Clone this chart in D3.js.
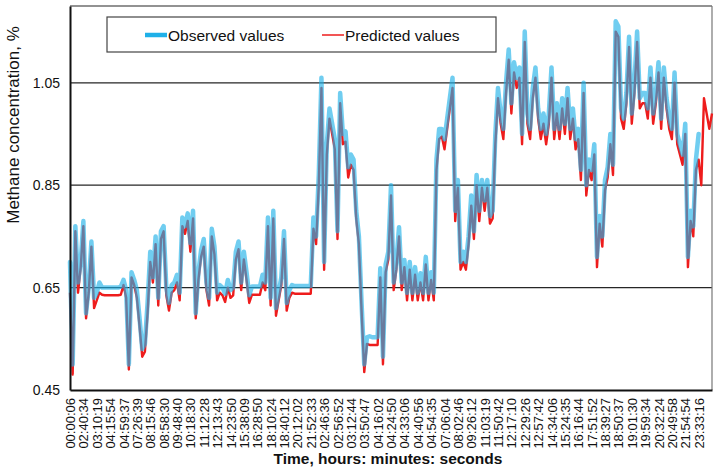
<!DOCTYPE html>
<html><head><meta charset="utf-8">
<script src="https://cdn.jsdelivr.net/npm/d3@7"></script>
<style>body{margin:0;background:#fff}svg{display:block;font-family:"Liberation Sans",Arial,sans-serif}</style>
</head><body><svg id="c" width="720" height="476"></svg>
<script>
const tickLabels = ["00:00:06","02:40:34","03:10:19","04:15:54","04:59:37","07:26:39","08:15:46","08:58:30","09:48:40","10:18:30","11:12:28","12:13:43","14:23:50","15:38:09","16:28:50","18:10:24","18:40:12","20:12:02","21:52:33","02:46:36","02:56:52","03:12:44","03:50:47","04:16:02","04:24:50","04:33:06","04:40:56","04:54:35","07:06:04","08:02:46","09:26:12","11:03:19","11:50:42","12:17:10","12:29:26","12:57:42","14:34:06","15:24:35","16:16:44","17:51:52","18:39:27","18:50:37","19:01:30","19:59:34","20:32:24","20:49:58","21:54:54","23:33:16"];
const pointsPerLabel = 5;

const observed = [0.70,0.50,0.77,0.66,0.70,0.78,0.60,0.65,0.74,0.63,
 0.64,0.66,0.65,0.65,0.65,0.65,0.65,0.65,0.65,
 0.652,0.665,0.645,0.50,0.68,0.665,0.645,0.59,0.53,0.54,
 0.62,0.72,0.67,0.75,0.63,0.76,0.77,0.65,0.62,0.655,
 0.66,0.675,0.64,0.787,0.77,0.795,0.737,0.80,0.60,0.68,
 0.723,0.745,0.66,0.63,0.765,0.73,0.64,0.655,0.65,0.638,
 0.665,0.645,0.65,0.72,0.74,0.66,0.72,0.68,0.635,0.652,
 0.652,0.652,0.652,0.675,0.66,0.787,0.63,0.80,0.61,
 0.64,0.67,0.76,0.62,0.645,0.655,0.653,0.653,0.653,0.653,
 0.653,0.653,0.653,0.787,0.75,0.87,1.06,0.70,0.93,1.00,
 0.97,0.94,0.76,1.03,0.95,0.955,0.885,0.91,0.90,0.80,
 0.75,0.62,0.50,0.553,0.555,0.553,0.553,0.553,0.688,
 0.515,0.695,0.72,0.85,0.66,0.70,0.768,0.66,0.704,0.64,
 0.70,0.64,0.69,0.64,0.678,0.64,0.71,0.64,0.68,0.64,
 0.90,0.96,0.96,0.94,0.98,1.02,1.06,0.80,0.86,0.70,
 0.72,0.70,0.75,0.83,0.76,0.87,0.80,0.86,0.82,0.86,
 0.79,0.80,0.95,1.04,0.99,0.96,1.05,1.115,1.01,
 1.09,1.06,1.08,0.95,1.15,0.99,0.96,1.04,1.08,1.00,
 0.96,0.99,0.95,0.99,1.08,0.96,1.01,0.96,1.02,0.97,
 1.04,0.96,1.00,0.94,0.96,0.88,1.05,0.85,0.90,0.88,
 0.93,0.71,0.79,0.75,0.86,0.885,0.95,0.89,1.17,1.16,
 1.00,0.98,1.03,1.14,0.99,1.05,1.15,1.02,1.03,
 1.03,1.00,1.08,0.99,1.03,1.09,0.98,1.08,1.02,0.98,
 0.96,1.07,0.95,0.93,0.91,0.97,0.71,0.80,0.77,0.90,
 0.95];

const predicted = [0.64,0.48,0.76,0.64,0.69,0.77,0.59,0.64,0.73,0.61,
 0.625,0.64,0.636,0.635,0.635,0.635,0.635,0.635,0.635,
 0.636,0.655,0.63,0.49,0.67,0.655,0.63,0.575,0.515,0.525,
 0.60,0.70,0.66,0.735,0.615,0.745,0.76,0.635,0.605,0.64,
 0.645,0.66,0.625,0.77,0.755,0.78,0.72,0.785,0.59,0.665,
 0.71,0.73,0.645,0.615,0.75,0.715,0.625,0.64,0.635,0.622,
 0.65,0.63,0.635,0.705,0.725,0.645,0.705,0.665,0.62,0.636,
 0.636,0.636,0.636,0.66,0.645,0.77,0.615,0.785,0.595,
 0.625,0.655,0.745,0.605,0.63,0.64,0.638,0.638,0.638,0.638,
 0.638,0.638,0.638,0.765,0.735,0.85,1.04,0.685,0.91,0.98,
 0.95,0.92,0.745,1.01,0.93,0.935,0.865,0.89,0.88,0.785,
 0.735,0.605,0.485,0.54,0.538,0.538,0.538,0.538,0.67,
 0.50,0.68,0.705,0.83,0.645,0.685,0.75,0.645,0.69,0.625,
 0.685,0.625,0.675,0.625,0.66,0.625,0.695,0.625,0.665,0.625,
 0.88,0.94,0.945,0.92,0.96,1.00,1.04,0.78,0.845,0.685,
 0.70,0.685,0.735,0.81,0.745,0.85,0.78,0.845,0.80,0.845,
 0.775,0.785,0.93,1.02,0.97,0.94,1.03,1.095,0.99,
 1.07,1.04,1.06,0.93,1.13,0.97,0.94,1.02,1.06,0.98,
 0.94,0.97,0.93,0.97,1.06,0.94,0.99,0.94,1.00,0.95,
 1.02,0.94,0.98,0.92,0.94,0.86,1.03,0.83,0.88,0.86,
 0.91,0.69,0.775,0.73,0.84,0.865,0.93,0.87,1.15,1.14,
 0.98,0.96,1.01,1.12,0.97,1.03,1.13,1.00,1.01,
 1.01,0.98,1.06,0.97,1.01,1.07,0.96,1.06,1.00,0.96,
 0.94,1.05,0.93,0.91,0.89,0.95,0.69,0.78,0.75,0.88,
 0.90,0.85,1.02,0.99,0.96,0.99];

const seriesNames = ["Observed values", "Predicted values"];
const yTicks = [0.45, 0.65, 0.85, 1.05];
const yDomain = [0.45, 1.2];
const yTitle = "Methane concentration, %";
const xTitle = "Time, hours: minutes: seconds";

const BLUE = "#1fb0e8", RED = "#ee1c1c";

const svg = d3.select("#c");
const m = {l: 70, r: 712, t: 6, b: 390};
const x = d3.scaleLinear().domain([0, predicted.length - 1]).range([m.l, m.r]);
const y = d3.scaleLinear().domain(yDomain).range([m.b, m.t]);

// grid lines
svg.append("g").selectAll("line").data(yTicks.slice(1)).join("line")
  .attr("x1", m.l).attr("x2", m.r)
  .attr("y1", d => y(d)).attr("y2", d => y(d))
  .attr("stroke", "#262626").attr("stroke-width", 1.2);

// top and right frame
svg.append("line").attr("x1", m.l).attr("x2", m.r).attr("y1", m.t).attr("y2", m.t)
  .attr("stroke", "#262626").attr("stroke-width", 1.2);
svg.append("line").attr("x1", m.r).attr("x2", m.r).attr("y1", m.t).attr("y2", m.b)
  .attr("stroke", "#777").attr("stroke-width", 1.2);

// series
const line = d3.line().x((d, i) => x(i)).y(d => y(d)).curve(d3.curveLinear);
svg.append("path").datum(predicted).attr("d", line)
  .attr("fill", "none").attr("stroke", RED).attr("stroke-width", 2.4)
  .attr("stroke-linejoin", "round");
svg.append("path").datum(observed).attr("d", line)
  .attr("fill", "none").attr("stroke", BLUE).attr("stroke-width", 4.5)
  .attr("stroke-opacity", 0.64).attr("stroke-linejoin", "round").attr("stroke-linecap", "round");

// y axis
const gy = svg.append("g").attr("transform", `translate(${m.l},0)`)
  .call(d3.axisLeft(y).tickValues(yTicks).tickFormat(d3.format(".2f")).tickSize(0).tickSizeOuter(0).tickPadding(10));
gy.select(".domain").attr("stroke", "#111").attr("stroke-width", 2);
gy.selectAll("text").attr("font-size", 14).attr("fill", "#111").attr("font-family", "Liberation Sans, Arial, sans-serif");

// x axis
const tickIdx = tickLabels.map((_, k) => k * pointsPerLabel);
const gx = svg.append("g").attr("transform", `translate(0,${m.b})`)
  .call(d3.axisBottom(x).tickValues(tickIdx).tickFormat(d => tickLabels[d / pointsPerLabel]).tickSize(0).tickSizeOuter(0));
gx.select(".domain").attr("stroke", "#111").attr("stroke-width", 2);
gx.selectAll("text")
  .attr("font-size", 13).attr("fill", "#111").attr("font-family", "Liberation Sans, Arial, sans-serif")
  .attr("transform", "rotate(-90)").attr("text-anchor", "end")
  .attr("x", -8).attr("y", 0).attr("dy", "0.35em");

// titles
svg.append("text").attr("transform", "translate(19,125) rotate(-90)")
  .attr("text-anchor", "middle").attr("font-size", 17).attr("fill", "#111").text(yTitle);
svg.append("text").attr("x", 388).attr("y", 464).attr("text-anchor", "middle")
  .attr("font-size", 15.5).attr("font-weight", "bold").attr("fill", "#111").text(xTitle);

// legend
const lg = svg.append("g");
lg.append("rect").attr("x", 107).attr("y", 17).attr("width", 389).attr("height", 35)
  .attr("fill", "#fff").attr("stroke", "#444").attr("stroke-width", 1.2);
const items = [
  {name: seriesNames[0], color: BLUE, w: 4.5, x0: 145},
  {name: seriesNames[1], color: RED, w: 1.5, x0: 322}
];
items.forEach(it => {
  lg.append("line").attr("x1", it.x0).attr("x2", it.x0 + 22).attr("y1", 35).attr("y2", 35)
    .attr("stroke", it.color).attr("stroke-width", it.w);
  lg.append("text").attr("x", it.x0 + 23).attr("y", 40.5).attr("font-size", 15.5)
    .attr("fill", "#111").text(it.name);
});
</script></body></html>
